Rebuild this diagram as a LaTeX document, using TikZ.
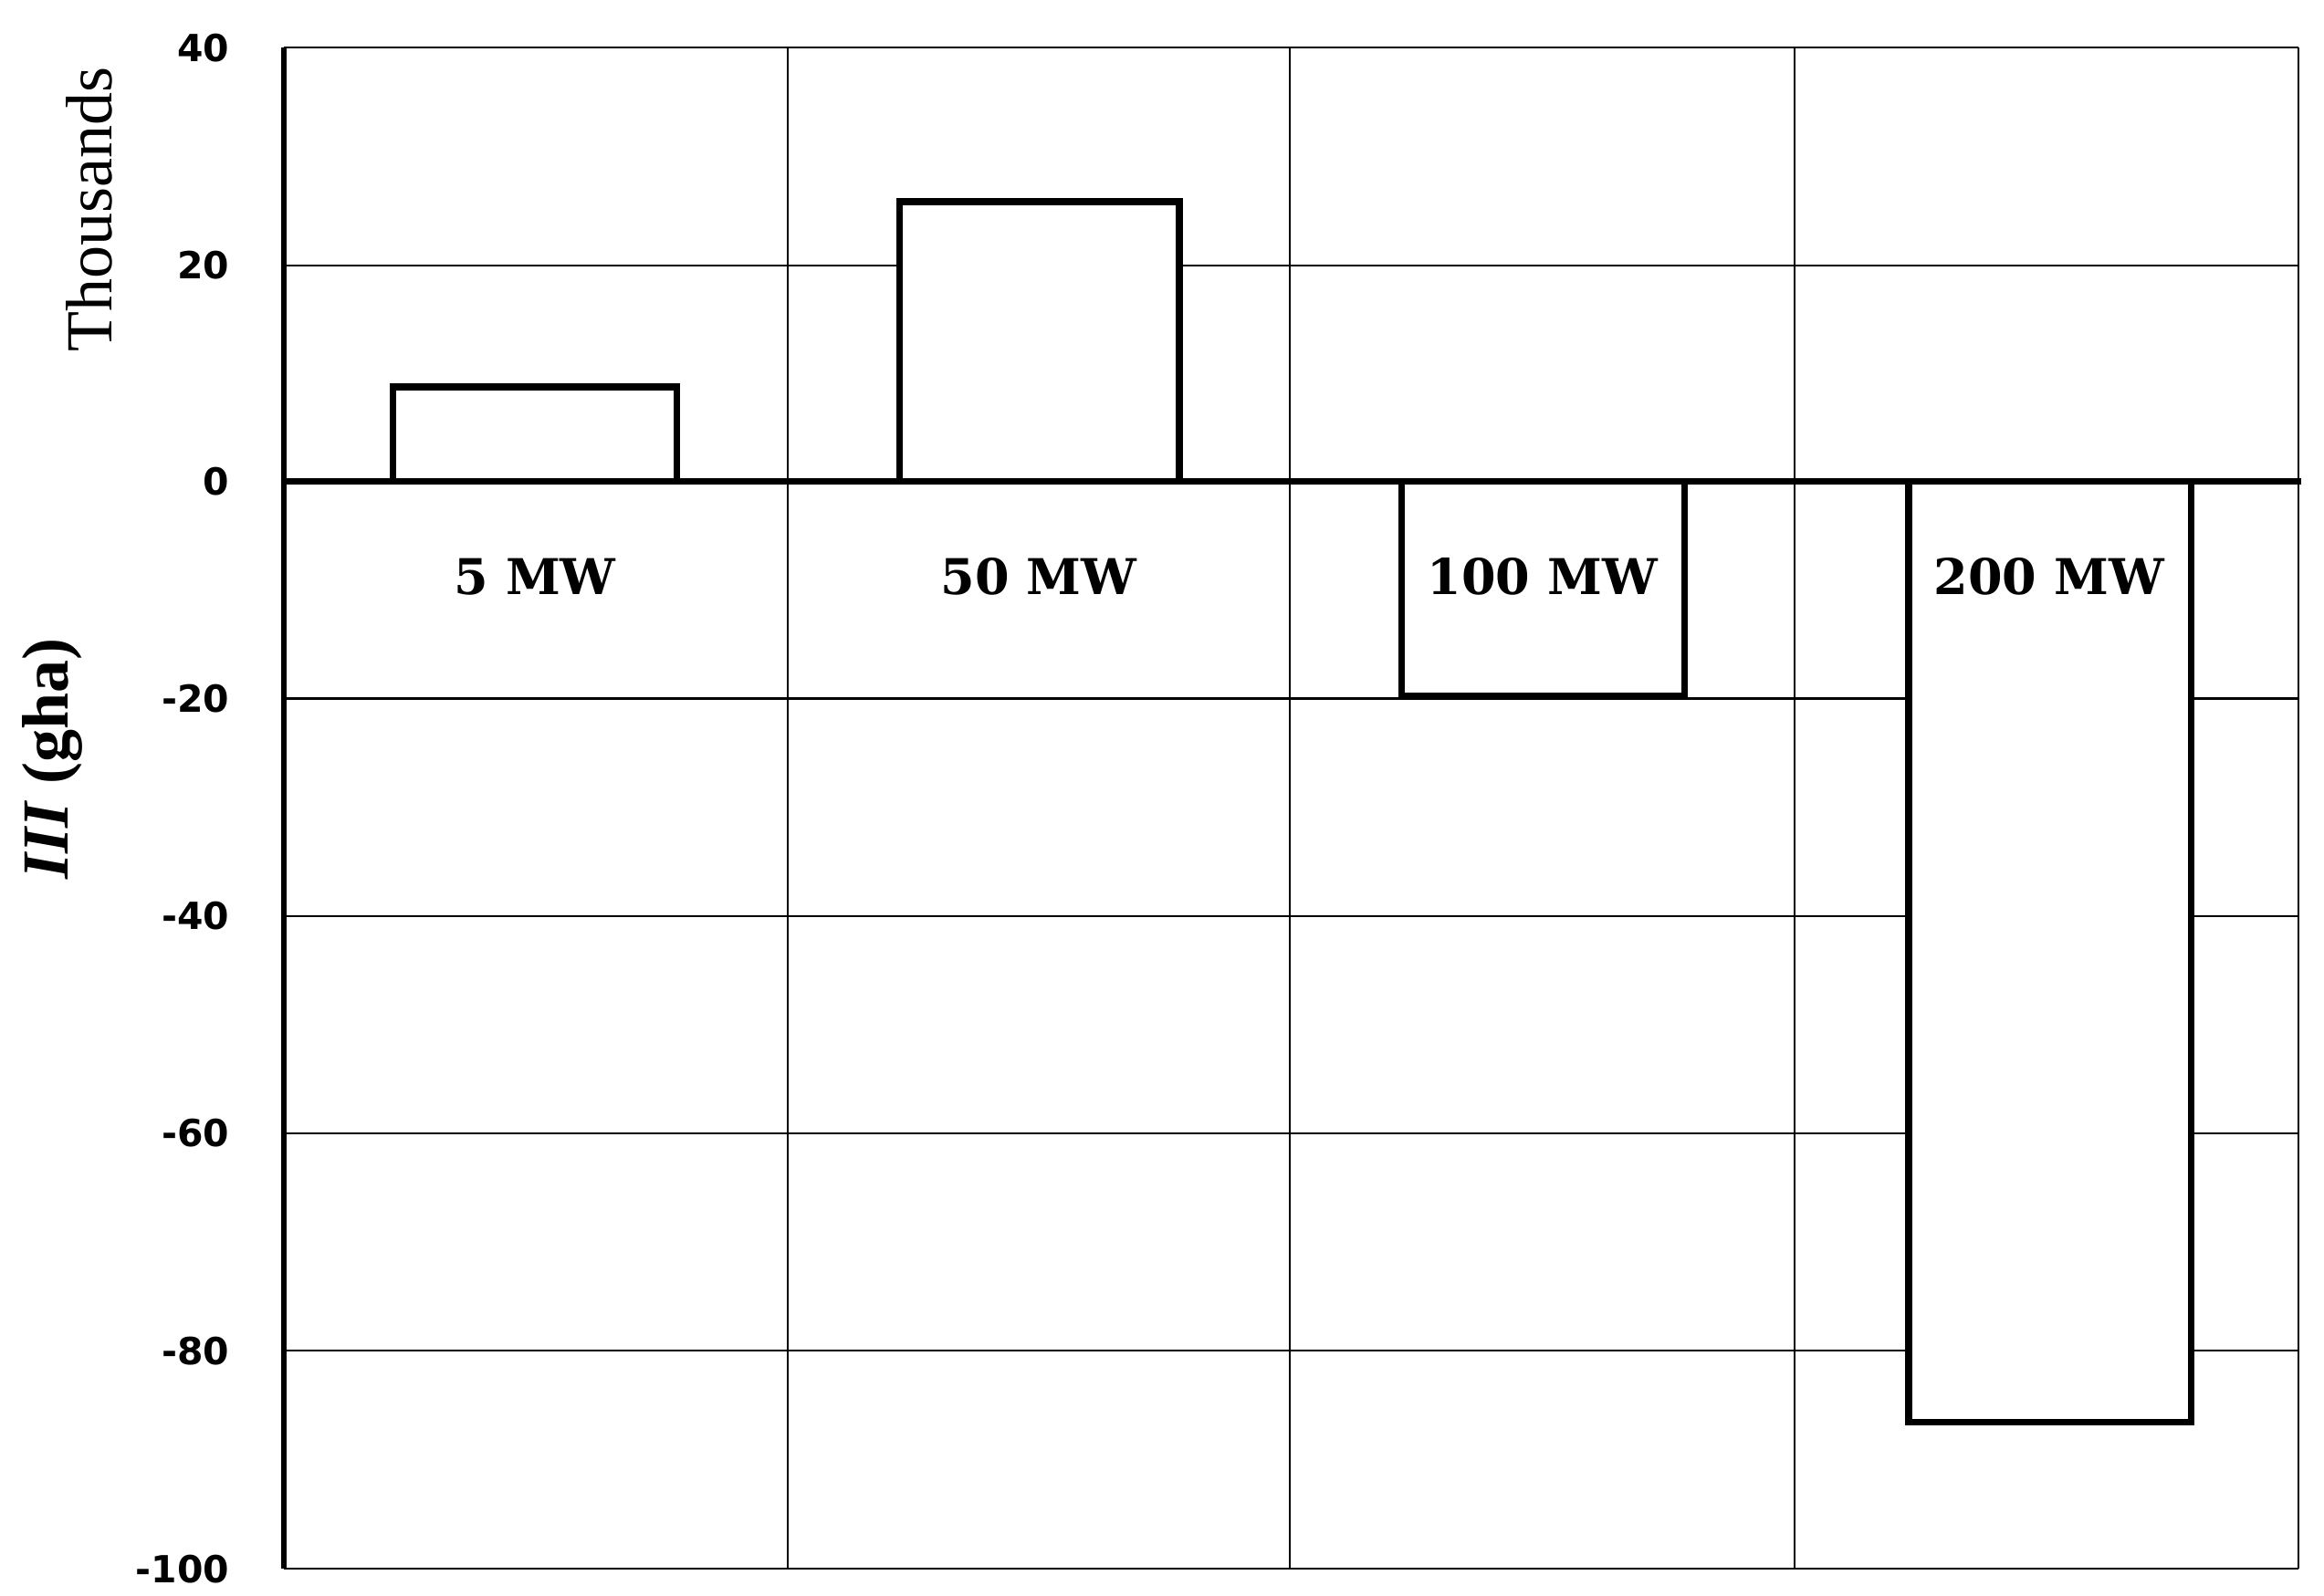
\documentclass[tikz,border=0pt]{standalone}
\usepackage{fontspec}
\setmainfont{Liberation Serif}
\newfontfamily\tickf{DejaVu Sans}
\newfontfamily\catf{DejaVu Serif}
\begin{document}
\begin{tikzpicture}[x=1pt,y=-1pt,
  grid/.style={line width=1.3pt},
  bar/.style={line width=4.5pt,fill=white},
  tick/.style={font=\tickf\bfseries\fontsize{25}{25}\selectfont,anchor=east},
  cat/.style={font=\catf\bfseries\fontsize{33}{33}\selectfont}]
\useasboundingbox (0,0) rectangle (1555,1068);
\foreach \v/\y in {40/32,20/177.5,0/322,-20/467.5,-40/613,-60/758.5,-80/904,-100/1050}{
  \draw[grid] (190,\y) -- (1538,\y);
  \node[tick] at (157,\y) {\v};}
\foreach \x in {527,863,1201,1538}{\draw[grid] (\x,32) -- (\x,1050);}
\draw[line width=4pt] (190,32) -- (190,1050);
\draw[bar] (263,322) rectangle (453,259);
\draw[bar] (602,322) rectangle (789,135);
\draw[bar] (938,322) rectangle (1127,466);
\draw[bar] (1277,322) rectangle (1466,952);
\draw[line width=4.5pt] (190,322) -- (1540,322);
\node[cat] (a) at (358,386) {5 MW};
\node[cat] (b) at (695,386) {50 MW};
\node[cat] (c) at (1032,386) {100 MW};
\node[cat] (d) at (1371,386) {200 MW};
\node[rotate=90,font=\fontsize{44}{44}\selectfont] (t) at (60,140) {Thousands};
\node[rotate=90,font=\bfseries\fontsize{44}{44}\selectfont] (l) at (35,508) {\textit{III} (gha)};
\end{tikzpicture}
\end{document}
